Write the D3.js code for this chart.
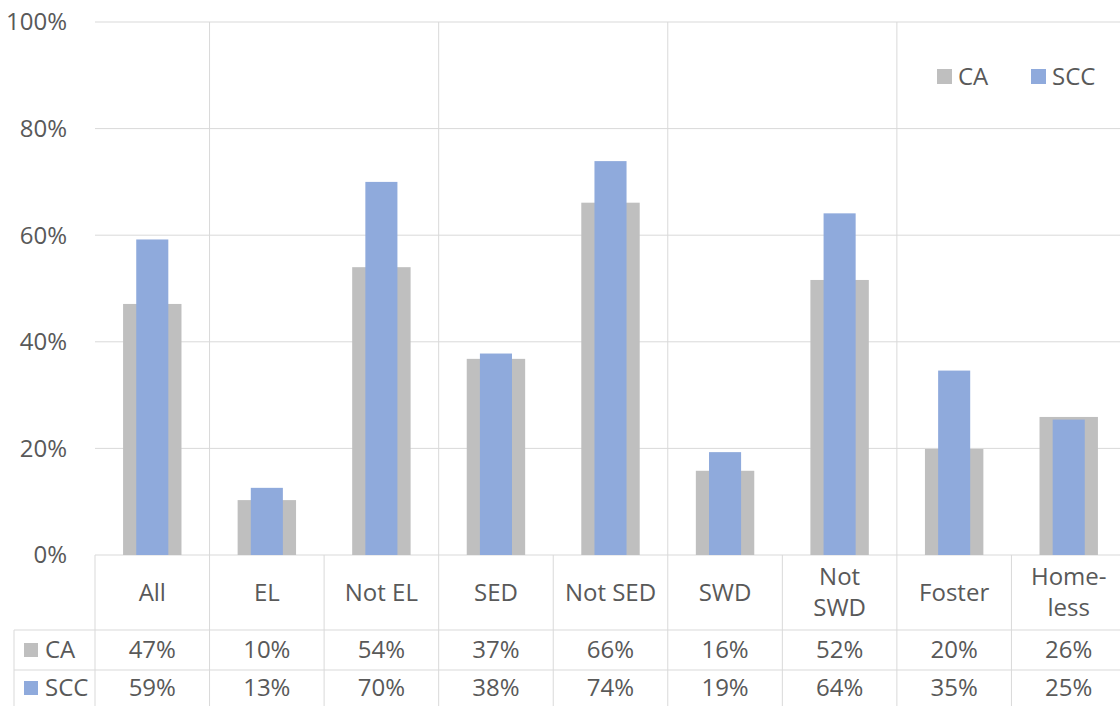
<!DOCTYPE html>
<html>
<head>
<meta charset="utf-8">
<script src="https://cdn.jsdelivr.net/npm/d3@7"></script>
<style>
    body { margin: 0; background: #fff; }
    svg { display: block; font-family: "Open Sans", sans-serif; }
</style>
</head>
<body>
<div id="chart"></div>
<script>
var categories = [['All'], ['EL'], ['Not EL'], ['SED'], ['Not SED'], ['SWD'], ['Not', 'SWD'], ['Foster'], ['Home-', 'less']];
var ca_values = [0.471, 0.103, 0.540, 0.368, 0.661, 0.158, 0.516, 0.199, 0.259];
var scc_values = [0.592, 0.126, 0.700, 0.378, 0.739, 0.193, 0.641, 0.346, 0.254];
var series_names = ['CA', 'SCC'];
var series_colors = ['#bfbfbf', '#8faadc'];
var y_ticks = [0, 0.2, 0.4, 0.6, 0.8, 1.0];
var group_breaks = [1, 3, 5, 7];

var width = 1120, height = 706;
var plot = {left: 95, right: 1126, top: 22, bottom: 555};
var text_color = '#595959', line_color = '#d9d9d9';
var font_size = '24px';

let svg = d3.select('#chart').append('svg')
    .attr('width', width)
    .attr('height', height);

let x = d3.scaleBand()
    .domain(d3.range(categories.length))
    .range([plot.left, plot.right]);

let y = d3.scaleLinear()
    .domain([0, 1])
    .range([plot.bottom, plot.top]);

// gridlines + y labels
svg.selectAll('.grid')
    .data(y_ticks)
    .enter().append('line')
    .attr('x1', plot.left)
    .attr('x2', plot.right)
    .attr('y1', function(d) { return y(d); })
    .attr('y2', function(d) { return y(d); })
    .attr('stroke', line_color)
    .attr('stroke-width', 1);

svg.selectAll('.ylabel')
    .data(y_ticks)
    .enter().append('text')
    .attr('x', 67)
    .attr('y', function(d) { return y(d); })
    .attr('dy', '0.35em')
    .attr('text-anchor', 'end')
    .attr('fill', text_color)
    .style('font-size', font_size)
    .text(d3.format('.0%'));

// group separators in plot area
svg.selectAll('.sep')
    .data(group_breaks)
    .enter().append('line')
    .attr('x1', function(d) { return x(d); })
    .attr('x2', function(d) { return x(d); })
    .attr('y1', plot.top)
    .attr('y2', plot.bottom)
    .attr('stroke', line_color);

// bars
let ca_w = x.bandwidth() * 0.51, scc_w = x.bandwidth() * 0.28;
svg.selectAll('.bar-ca')
    .data(ca_values)
    .enter().append('rect')
    .attr('x', function(d, i) { return x(i) + (x.bandwidth() - ca_w) / 2; })
    .attr('y', function(d) { return y(d); })
    .attr('width', ca_w)
    .attr('height', function(d) { return y(0) - y(d); })
    .attr('fill', series_colors[0]);

svg.selectAll('.bar-scc')
    .data(scc_values)
    .enter().append('rect')
    .attr('x', function(d, i) { return x(i) + (x.bandwidth() - scc_w) / 2; })
    .attr('y', function(d) { return y(d); })
    .attr('width', scc_w)
    .attr('height', function(d) { return y(0) - y(d); })
    .attr('fill', series_colors[1]);

// legend
let legend_x = [937, 1031];
series_names.forEach(function(name, i) {
    svg.append('rect')
        .attr('x', legend_x[i]).attr('y', 69)
        .attr('width', 15).attr('height', 15)
        .attr('fill', series_colors[i]);
    svg.append('text')
        .attr('x', legend_x[i] + 21).attr('y', 77)
        .attr('dy', '0.35em')
        .attr('fill', text_color)
        .style('font-size', font_size)
        .text(name);
});

// data table
let rows_y = [555, 630, 670, 706];
let table = svg.append('g');

table.selectAll('.vline')
    .data(d3.range(categories.length + 1))
    .enter().append('line')
    .attr('x1', function(d) { return plot.left + d * x.step(); })
    .attr('x2', function(d) { return plot.left + d * x.step(); })
    .attr('y1', rows_y[0])
    .attr('y2', rows_y[3])
    .attr('stroke', line_color);

[rows_y[1], rows_y[2]].forEach(function(yy) {
    table.append('line')
        .attr('x1', 14).attr('x2', plot.right)
        .attr('y1', yy).attr('y2', yy)
        .attr('stroke', line_color);
});
table.append('line')
    .attr('x1', 14).attr('x2', 14)
    .attr('y1', rows_y[1]).attr('y2', rows_y[3])
    .attr('stroke', line_color);

// category header
let header_mid = (rows_y[0] + rows_y[1]) / 2;
categories.forEach(function(lines, i) {
    let t = table.append('text')
        .attr('text-anchor', 'middle')
        .attr('fill', text_color)
        .style('font-size', font_size);
    lines.forEach(function(line, k) {
        let off = (k - (lines.length - 1) / 2) * 31;
        t.append('tspan')
            .attr('x', x(i) + x.bandwidth() / 2)
            .attr('y', header_mid + off)
            .attr('dy', '0.35em')
            .text(line);
    });
});

// value rows
let all_values = [ca_values, scc_values];
all_values.forEach(function(vals, r) {
    let mid = (rows_y[r + 1] + rows_y[r + 2]) / 2;
    table.append('rect')
        .attr('x', 24).attr('y', mid - 7)
        .attr('width', 14).attr('height', 14)
        .attr('fill', series_colors[r]);
    table.append('text')
        .attr('x', 45).attr('y', mid)
        .attr('dy', '0.35em')
        .attr('fill', text_color)
        .style('font-size', font_size)
        .text(series_names[r]);
    table.selectAll('.val-' + r)
        .data(vals)
        .enter().append('text')
        .attr('x', function(d, i) { return x(i) + x.bandwidth() / 2; })
        .attr('y', mid)
        .attr('dy', '0.35em')
        .attr('text-anchor', 'middle')
        .attr('fill', text_color)
        .style('font-size', font_size)
        .text(d3.format('.0%'));
});
</script>
</body>
</html>
